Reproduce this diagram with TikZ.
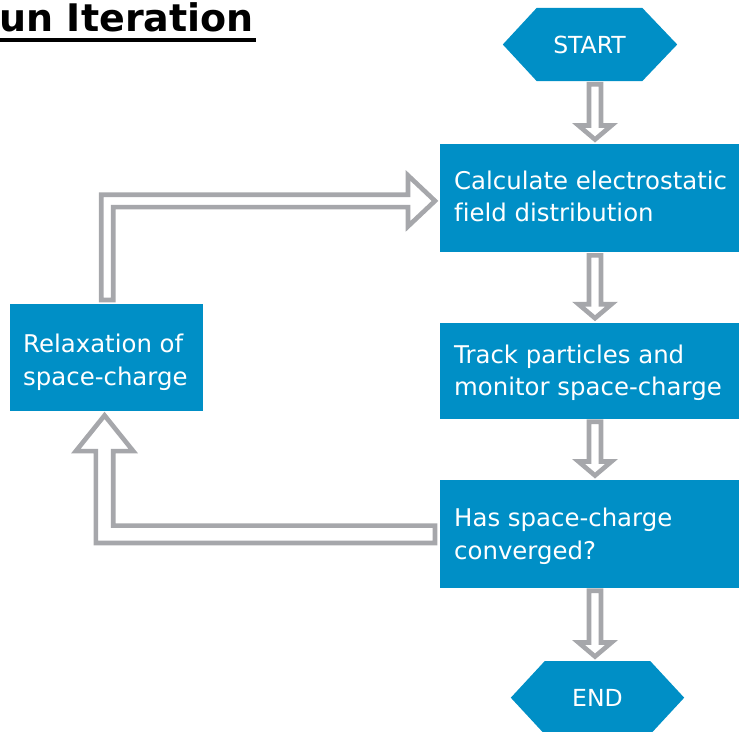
\documentclass[tikz,border=0pt]{standalone}
\usepackage{fontspec}
\setmainfont{DejaVu Sans}[Ligatures=NoCommon]
\usetikzlibrary{calc}
\definecolor{boxblue}{RGB}{0,143,198}
\definecolor{arrgray}{RGB}{166,167,171}
\pgfdeclarelayer{bg}
\pgfsetlayers{bg,main}
\newcommand\hollowdn[2]{%
  \draw[hollow] let \p1=(#1.south), \p2=(#2.north), \p3=(axis) in
    (\x3-6pt,\y1-3pt) -- (\x3-6pt,\y2+18.5pt) -- (\x3-16.5pt,\y2+18.5pt) -- (\x3,\y2+4.5pt)
    -- (\x3+16.5pt,\y2+18.5pt) -- (\x3+6pt,\y2+18.5pt) -- (\x3+6pt,\y1-3pt) -- cycle;}
\begin{document}
\begin{tikzpicture}[x=1pt,y=-1pt,
  box/.style={rectangle, fill=boxblue, inner sep=0pt, anchor=north west},
  btext/.style={text=white, align=left, inner sep=0pt, anchor=north west, font=\fontsize{24.4}{32.7}\selectfont},
  hexcore/.style={rectangle, inner sep=0pt, minimum width=105pt, minimum height=73pt, text=white, font=\fontsize{23.5}{27}\selectfont},
  hollow/.style={draw=arrgray, fill=white, line width=4.6pt, miter limit=10}
]
\useasboundingbox (0,0) rectangle (739,731);
\coordinate (axis) at (595,0);

% title
\node[anchor=base east, inner sep=0pt, font=\fontsize{38}{40}\selectfont\bfseries] (title) at (254,31) {un Iteration};
\fill[black] (0,38) rectangle (256,42);

% boxes
\node[box, minimum width=310pt, minimum height=108pt] (calc) at (440,144) {};
\node[box, minimum width=310pt, minimum height=95.6pt] (track) at (440,322.7) {};
\node[box, minimum width=310pt, minimum height=107.3pt] (conv) at (440,480) {};
\node[box, minimum width=192.7pt, minimum height=107.4pt] (relax) at (10,303.3) {};

\node[btext] (calcT) at (454,170.5) {Calculate electrostatic\\field distribution};
\node[btext] (trackT) at (454,344.5) {Track particles and\\monitor space-charge};
\node[btext] (convT) at (454,508) {Has space-charge\\converged?};
\node[btext] (relaxT) at (23,333.8) {Relaxation of\\space-charge};

% terminals
\node[hexcore] (start) at (589.5,44.5) {START};
\node[hexcore] (stop) at (597.5,697.7) {END};
\begin{pgfonlayer}{bg}
\fill[boxblue] (start.north west) -- (start.north east) -- ([xshift=35pt]start.east) -- (start.south east) -- (start.south west) -- ([xshift=-34pt]start.west) -- cycle;
\fill[boxblue] (stop.north west) -- (stop.north east) -- ([xshift=34pt]stop.east) -- (stop.south east) -- (stop.south west) -- ([xshift=-34pt]stop.west) -- cycle;
\end{pgfonlayer}

% vertical hollow arrows
\hollowdn{start}{calc}
\hollowdn{calc}{track}
\hollowdn{track}{conv}
\hollowdn{conv}{stop}

% loop: relaxation -> calculate
\draw[hollow] let \p1=(relax.north), \p2=(calc.west), \p3=(\x1+0.7pt,\y2-2.7pt) in
  (\x3-6pt,\y1+3.3pt) -- (\x3-6pt,\y3+6.2pt) -- (\x2-32pt,\y3+6.2pt) -- (\x2-32pt,\y3+25.5pt)
  -- (\x2-5pt,\y3) -- (\x2-32pt,\y3-25.5pt) -- (\x2-32pt,\y3-6.2pt) -- (\x3+6pt,\y3-6.2pt)
  -- (\x3+6pt,\y1+3.3pt) -- cycle;

% loop: converged? -> relaxation
\draw[hollow] let \p1=(relax.south), \p2=(conv.west), \p3=(\x1-2pt,\y2-0.4pt) in
  (\x2-5pt,\y3+8.7pt) -- (\x3+8.7pt,\y3+8.7pt) -- (\x3+8.7pt,\y1-40pt) -- (\x3+28.7pt,\y1-40pt)
  -- (\x3,\y1-4.3pt) -- (\x3-28.7pt,\y1-40pt) -- (\x3-8.7pt,\y1-40pt) -- (\x3-8.7pt,\y3-8.7pt)
  -- (\x2-5pt,\y3-8.7pt) -- cycle;
\end{tikzpicture}
\end{document}
